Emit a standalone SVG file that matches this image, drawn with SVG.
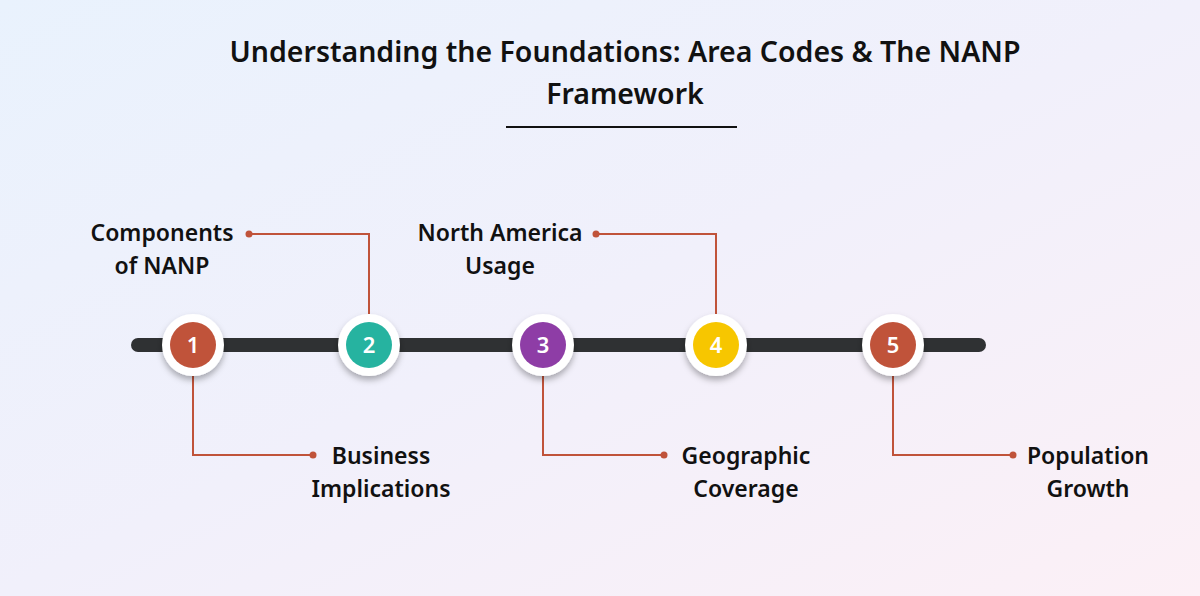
<svg xmlns="http://www.w3.org/2000/svg" width="1200" height="596" viewBox="0 0 1200 596">
<defs>
<linearGradient id="bg" x1="0" y1="0" x2="1" y2="1">
<stop offset="0" stop-color="#e9f2fd"/><stop offset="0.5" stop-color="#f1f0fb"/><stop offset="1" stop-color="#fcf0f6"/>
</linearGradient>
<filter id="sh" x="-50%" y="-50%" width="200%" height="200%"><feDropShadow dx="0" dy="4" stdDeviation="3" flood-color="#000" flood-opacity="0.3"/></filter>
</defs>
<style>
.t{font-family:"Noto Sans",sans-serif;font-weight:600;fill:#111;}
.lbl{font-size:23px;text-anchor:middle;}
.ln{fill:none;stroke:#c0533a;stroke-width:2;}
.dot{fill:#c0533a;}
.num{font-family:"Noto Sans",sans-serif;font-weight:600;font-size:22px;fill:#fff;text-anchor:middle;}
</style>
<rect width="1200" height="596" fill="url(#bg)"/>
<text class="t" x="625" y="62" font-size="28.5" text-anchor="middle">Understanding the Foundations: Area Codes &amp; The NANP</text>
<text class="t" x="625" y="104" font-size="28.5" text-anchor="middle">Framework</text>
<line x1="506" y1="127" x2="737" y2="127" stroke="#111" stroke-width="2"/>
<line x1="138" y1="345" x2="979" y2="345" stroke="#2f3133" stroke-width="14" stroke-linecap="round"/>
<g id="connectors">
<polyline class="ln" points="193,376 193,455 313,455"/><circle class="dot" cx="313" cy="455" r="3.5"/>
<polyline class="ln" points="369,314 369,234 249,234"/><circle class="dot" cx="249" cy="234" r="3.5"/>
<polyline class="ln" points="543,376 543,455 664,455"/><circle class="dot" cx="664" cy="455" r="3.5"/>
<polyline class="ln" points="716,314 716,234 596,234"/><circle class="dot" cx="596" cy="234" r="3.5"/>
<polyline class="ln" points="893,376 893,455 1013,455"/><circle class="dot" cx="1013" cy="455" r="3.5"/>
</g>
<g id="n1"><circle cx="193" cy="345" r="31" fill="#fff" filter="url(#sh)"/><circle cx="193" cy="345" r="23" fill="#c0533a"/><text class="num" x="193" y="353">1</text></g>
<g id="n2"><circle cx="369" cy="345" r="31" fill="#fff" filter="url(#sh)"/><circle cx="369" cy="345" r="23" fill="#26b3a0"/><text class="num" x="369" y="353">2</text></g>
<g id="n3"><circle cx="543" cy="345" r="31" fill="#fff" filter="url(#sh)"/><circle cx="543" cy="345" r="23" fill="#8e3da6"/><text class="num" x="543" y="353">3</text></g>
<g id="n4"><circle cx="716" cy="345" r="31" fill="#fff" filter="url(#sh)"/><circle cx="716" cy="345" r="23" fill="#f7c600"/><text class="num" x="716" y="353">4</text></g>
<g id="n5"><circle cx="893" cy="345" r="31" fill="#fff" filter="url(#sh)"/><circle cx="893" cy="345" r="23" fill="#c0533a"/><text class="num" x="893" y="353">5</text></g>
<g id="l1"><text class="t lbl" x="162" y="241">Components</text><text class="t lbl" x="162" y="274">of NANP</text></g>
<g id="l2"><text class="t lbl" x="381" y="464">Business</text><text class="t lbl" x="381" y="497">Implications</text></g>
<g id="l3"><text class="t lbl" x="500" y="241">North America</text><text class="t lbl" x="500" y="274">Usage</text></g>
<g id="l4"><text class="t lbl" x="746" y="464">Geographic</text><text class="t lbl" x="746" y="497">Coverage</text></g>
<g id="l5"><text class="t lbl" x="1088" y="464">Population</text><text class="t lbl" x="1088" y="497">Growth</text></g>
</svg>
